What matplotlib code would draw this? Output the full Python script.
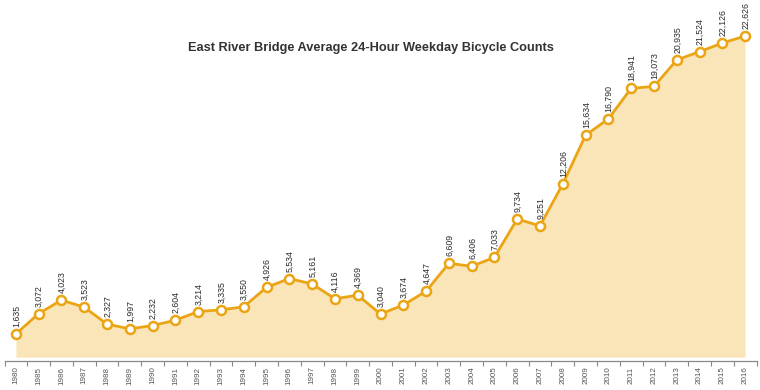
import numpy as np
import matplotlib.pyplot as plt

years = ['1980', '1985', '1986', '1987', '1988', '1989', '1990', '1991', '1992',
         '1993', '1994', '1995', '1996', '1997', '1998', '1999', '2000', '2001',
         '2002', '2003', '2004', '2005', '2006', '2007', '2008', '2009', '2010',
         '2011', '2012', '2013', '2014', '2015', '2016']
counts = [1635, 3072, 4023, 3523, 2327, 1997, 2232, 2604, 3214, 3335, 3550,
          4926, 5534, 5161, 4116, 4369, 3040, 3674, 4647, 6609, 6406, 7033,
          9734, 9251, 12206, 15634, 16790, 18941, 19073, 20935, 21524, 22126,
          22626]

line_col = '#EBA514'
fill_col = '#FAE5B9'

plt.rcParams['font.family'] = ['Liberation Sans', 'DejaVu Sans']

fig = plt.figure(figsize=(7.6, 3.9), dpi=100)
ax = fig.add_axes([4.5/760, 29/390, 752/760, 361/390])

x = np.arange(len(years))
ax.fill_between(x, 0, counts, color=fill_col, lw=0, zorder=1)
ax.plot(x, counts, color=line_col, lw=2.0, zorder=2,
        marker='o', ms=6.5, mfc='white', mec=line_col, mew=1.8)

for xi, v in zip(x, counts):
    ax.annotate(f'{v:,}', (xi, v), xytext=(0.5, 5), textcoords='offset points',
                rotation=90, ha='center', va='bottom', fontsize=6.3,
                color='#2b2b2b')

ax.set_xlim(-0.5, len(years) - 0.5)
ax.set_ylim(-268, 25162)

ax.set_xticks(x)
ax.set_xticklabels(years, rotation=90, fontsize=5.8, color='#555555')
ax.set_xticks(np.arange(-0.5, len(years)), minor=True)
ax.tick_params(axis='x', which='major', length=0, pad=4)
ax.tick_params(axis='x', which='minor', length=3.5, width=0.8, color='#888888')
ax.set_yticks([])

for s in ['top', 'right', 'left']:
    ax.spines[s].set_visible(False)
ax.spines['bottom'].set_color('#888888')
ax.spines['bottom'].set_linewidth(0.9)

fig.text(371/760, 1 - 48/390, 'East River Bridge Average 24-Hour Weekday Bicycle Counts',
         ha='center', va='center', fontsize=9.2, fontweight='bold', color='#333333')

fig.savefig('out.png', dpi=100)
